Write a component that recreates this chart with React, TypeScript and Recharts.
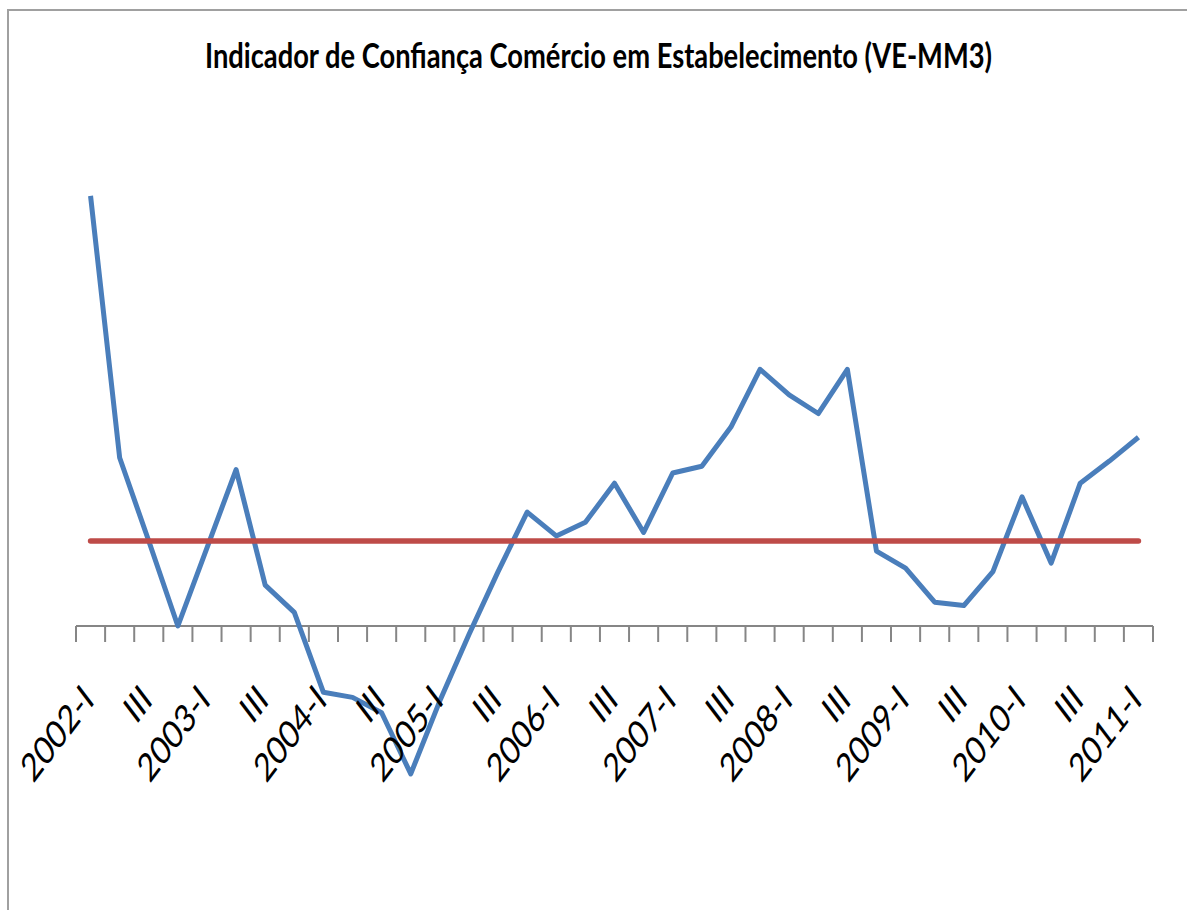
import { LineChart, Line, XAxis, YAxis, ReferenceLine } from "recharts";

// quarterly categories, 2002-I .. 2011-I
const quarters = [
  "2002-I", "2002-II", "2002-III", "2002-IV",
  "2003-I", "2003-II", "2003-III", "2003-IV",
  "2004-I", "2004-II", "2004-III", "2004-IV",
  "2005-I", "2005-II", "2005-III", "2005-IV",
  "2006-I", "2006-II", "2006-III", "2006-IV",
  "2007-I", "2007-II", "2007-III", "2007-IV",
  "2008-I", "2008-II", "2008-III", "2008-IV",
  "2009-I", "2009-II", "2009-III", "2009-IV",
  "2010-I", "2010-II", "2010-III", "2010-IV",
  "2011-I",
];

// Indicador de Confiança Comércio em Estabelecimento (VE-MM3)
const icom = [
  25.3, 9.9, 5.0, 0.0,
  4.6, 9.2, 2.4, 0.8,
  -3.9, -4.2, -5.1, -8.7,
  -4.4, -0.5, 3.2, 6.7,
  5.3, 6.1, 8.4, 5.5,
  9.0, 9.4, 11.7, 15.1,
  13.6, 12.5, 15.1, 4.4,
  3.4, 1.4, 1.2, 3.2,
  7.6, 3.7, 8.4, 9.7,
  11.1,
];

const media = 5.0;

const data = quarters.map((q, i) => ({ q, icom: icom[i] }));

const W = 1187;
const H = 910;
const PLOT_LEFT = 76;
const PLOT_RIGHT = 1153;
const PLOT_TOP = 116;
const PLOT_BOTTOM = 796;
const AXIS_H = 30;
const Y_MIN = -10;
const Y_MAX = 30;

const plotW = PLOT_RIGHT - PLOT_LEFT;
const bandW = plotW / quarters.length;
const zeroY = PLOT_TOP + (Y_MAX / (Y_MAX - Y_MIN)) * (PLOT_BOTTOM - PLOT_TOP);

const labelOf = (q: string) => {
  if (q.endsWith("-I")) return q;
  if (q.endsWith("-III")) return "III";
  return "";
};

const QuarterTick = (props: any) => {
  const { x, payload, index } = props;
  const left = x - bandW / 2;
  const label = labelOf(String(payload.value));
  const last = index === quarters.length - 1;
  return (
    <g>
      <line x1={left} x2={left} y1={zeroY} y2={zeroY + 16} stroke="#868686" strokeWidth={2} />
      {last && (
        <line x1={x + bandW / 2} x2={x + bandW / 2} y1={zeroY} y2={zeroY + 16} stroke="#868686" strokeWidth={2} />
      )}
      {label && (
        <text
          transform={`translate(${x + 5}, ${zeroY + 76}) scale(0.76, 1) rotate(-45)`}
          textAnchor="end"
          fontFamily="Lato, 'Open Sans', sans-serif"
          fontSize={39}
          fill="#000"
        >
          {label}
        </text>
      )}
    </g>
  );
};

export default function App() {
  return (
    <div style={{ position: "absolute", left: 0, top: 0, width: W, height: H, background: "#fff", overflow: "hidden" }}>
      <div
        style={{
          position: "absolute",
          left: 7,
          top: 9,
          width: W,
          height: H,
          borderLeft: "2px solid #a0a0a0",
          borderTop: "2px solid #a0a0a0",
        }}
      />
      <svg width={W} height={100} style={{ position: "absolute", left: 0, top: 0 }}>
        <text
          x={205}
          y={68}
          textLength={787}
          lengthAdjust="spacingAndGlyphs"
          fontFamily="Lato, 'Open Sans', sans-serif"
          fontWeight={700}
          fontSize={34}
          fill="#000"
        >
          Indicador de Confiança Comércio em Estabelecimento (VE-MM3)
        </text>
      </svg>
      <div style={{ position: "absolute", left: 0, top: 0 }}>
        <LineChart
          width={W}
          height={H}
          data={data}
          margin={{ top: PLOT_TOP, right: W - PLOT_RIGHT, bottom: H - PLOT_BOTTOM - AXIS_H, left: PLOT_LEFT }}
        >
          <XAxis
            dataKey="q"
            scale="band"
            height={AXIS_H}
            interval={0}
            axisLine={false}
            tickLine={false}
            tickSize={0}
            tickMargin={0}
            tick={<QuarterTick />}
          />
          <YAxis hide width={0} type="number" domain={[Y_MIN, Y_MAX]} />
          <ReferenceLine y={0} stroke="#868686" strokeWidth={2} />
          <Line
            type="linear"
            dataKey="icom"
            stroke="#4a7ebb"
            strokeWidth={5}
            dot={false}
            strokeLinejoin="round"
            isAnimationActive={false}
          />
          <ReferenceLine
            segment={[
              { x: quarters[0], y: media },
              { x: quarters[quarters.length - 1], y: media },
            ]}
            stroke="#be4b48"
            strokeWidth={5.5}
            strokeLinecap="round"
          />
        </LineChart>
      </div>
    </div>
  );
}
